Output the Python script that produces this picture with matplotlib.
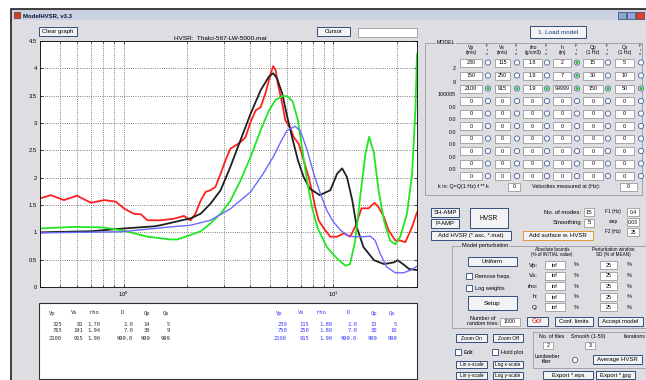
import numpy as np
import matplotlib.pyplot as plt
from matplotlib.patches import Rectangle, Circle
from matplotlib.ticker import LogLocator, FuncFormatter

# HVSR curves (freq in Hz, amplitude)
f_red = [0.40, 0.45, 0.52, 0.60, 0.70, 0.81, 0.92, 1.01, 1.12, 1.21, 1.30, 1.51, 1.74, 1.94,
         2.02, 2.085, 2.20, 2.33, 2.46, 2.59, 2.74, 2.90, 3.06, 3.23, 3.42, 3.61, 3.81, 4.03,
         4.26, 4.50, 4.74, 5.02, 5.16, 5.30, 5.43, 5.70, 5.90, 6.24, 6.47, 6.83, 7.21, 7.62,
         7.90, 8.20, 8.50, 9.00, 9.66, 10.4, 11.2, 12.0, 12.7, 13.6, 14.7, 15.7, 16.4, 17.4,
         18.3, 19.7, 20.8, 22.0, 23.7, 25.0]
hv_red = [1.62, 1.68, 1.59, 1.67, 1.54, 1.59, 1.56, 1.43, 1.34, 1.33, 1.22, 1.22, 1.25, 1.30,
          1.25, 1.22, 1.34, 1.58, 1.74, 1.77, 1.83, 2.07, 2.32, 2.53, 2.59, 2.65, 2.74, 3.02,
          3.23, 3.29, 3.54, 3.90, 4.04, 3.97, 3.72, 3.36, 3.05, 2.90, 2.74, 2.62, 2.32, 2.01,
          1.75, 1.45, 1.22, 1.07, 0.92, 0.92, 0.98, 0.92, 1.10, 1.44, 1.44, 1.54, 1.46, 1.28,
          1.04, 0.85, 0.85, 0.82, 1.10, 1.37]

f_black = [0.40, 0.70, 1.00, 1.40, 1.50, 2.10, 2.33, 2.59, 2.90, 3.23, 3.61, 4.03, 4.50, 4.93,
           5.16, 5.38, 5.70, 6.05, 6.40, 6.77, 7.21, 7.71, 8.60, 9.66, 10.4, 11.0, 11.6, 12.3,
           12.9, 13.9, 15.6, 17.4, 19.4, 20.2, 21.6, 22.9, 25.0]
hv_black = [1.00, 1.02, 1.07, 1.11, 1.13, 1.26, 1.34, 1.52, 1.77, 2.20, 2.69, 3.17, 3.60, 3.85,
            3.91, 3.82, 3.54, 3.08, 2.69, 2.32, 2.01, 1.80, 1.68, 1.77, 2.07, 2.17, 2.01, 1.58,
            1.10, 0.73, 0.49, 0.42, 0.45, 0.49, 0.41, 0.33, 0.31]

f_green = [0.40, 0.58, 0.80, 1.00, 1.30, 1.67, 1.80, 2.085, 2.33, 2.59, 2.90, 3.23, 3.61, 4.03,
           4.50, 4.93, 5.30, 5.70, 6.05, 6.40, 6.77, 7.08, 7.48, 7.90, 8.40, 9.30, 10.4, 11.4,
           12.0, 12.7, 13.4, 14.2, 14.8, 15.6, 16.4, 17.4, 18.6, 19.7, 20.8, 22.4, 23.7, 24.6,
           25.0]
hv_green = [1.07, 1.10, 1.09, 1.03, 0.92, 0.87, 0.87, 0.95, 1.02, 1.16, 1.34, 1.58, 1.95, 2.38,
            2.87, 3.23, 3.42, 3.49, 3.49, 3.39, 3.05, 2.55, 1.95, 1.46, 1.08, 0.73, 0.52, 0.39,
            0.42, 0.85, 1.64, 2.44, 2.75, 2.44, 1.77, 1.22, 0.85, 0.78, 0.92, 1.34, 2.07, 3.29,
            4.27]

f_blue = [0.40, 0.97, 1.68, 2.085, 2.59, 3.23, 4.03, 4.62, 5.20, 5.60, 6.00, 6.57, 6.97, 7.50,
          8.06, 8.66, 9.30, 10.0, 10.8, 11.6, 12.5, 13.9, 15.0, 15.8, 16.7, 17.9, 19.7, 21.6,
          23.7, 25.0]
hv_blue = [0.99, 1.01, 1.10, 1.13, 1.22, 1.43, 1.74, 2.07, 2.40, 2.65, 2.86, 2.94, 2.85, 2.50,
           2.07, 1.71, 1.40, 1.19, 1.04, 0.95, 0.92, 0.92, 0.93, 0.85, 0.61, 0.37, 0.26, 0.26,
           0.32, 0.38]

# model tables
tab_head = ['Vp', 'Vs', 'rho', 'D', 'Qp', 'Qs']
fit_vp = [325, 765, 2100]
fit_vs = [81, 191, 915]
fit_rho = [1.70, 1.94, 1.90]
fit_d = [2.0, 7.0, 999.0]
fit_qp = [14, 30, 999]
fit_qs = [5, 9, 999]
ini_vp = [230, 750, 2100]
ini_vs = [115, 250, 915]
ini_rho = [1.80, 1.80, 1.90]
ini_d = [2.0, 7.0, 999.0]
ini_qp = [15, 30, 999]
ini_qs = [5, 10, 999]

model_cols = ['Vp\n(m/s)', 'Vs\n(m/s)', 'rho\n(g/cm3)', 'h\n(m)', 'Qp\n(1 Hz)', 'Qs\n(1 Hz)']
model_rows = [['230', '115', '1.8', '2', '15', '5'],
              ['750', '250', '1.8', '7', '30', '10'],
              ['2100', '915', '1.9', '99999', '150', '50']] + [['0'] * 6] * 7
model_fix = [[0, 0, 0, 1, 0, 0], [0, 0, 0, 1, 0, 0], [1, 1, 1, 1, 1, 1]] + [[0] * 6] * 7
depth_labels = ['2', '9', '100005', '0.0', '0.0', '0.0', '0.0', '0.0', '0.0']
pert_names = ['Vp:', 'Vs:', 'rho:', 'h:', 'Q:']

FS = 4.3
plt.rcParams['font.family'] = ['Liberation Sans', 'DejaVu Sans']

fig = plt.figure(figsize=(6.46, 3.80), dpi=100, facecolor='white')
bg = fig.add_axes([0, 0, 1, 1])
bg.set_xlim(0, 646)
bg.set_ylim(380, 0)
bg.axis('off')

WIN = '#dedde2'
bg.add_patch(Rectangle((11, 9), 640, 375, fc=WIN, ec='#202020', lw=1.2))
bg.add_patch(Rectangle((12, 10), 640, 10, fc='#c9d1e2', ec='none'))
bg.add_patch(Rectangle((14, 12), 6, 6, fc='#d8401c', ec='#402010', lw=0.4))
bg.text(23, 15.5, 'ModelHVSR, v3.3', fontsize=4.3, fontweight='bold', color='#101030', va='center')
for x0, c in [(618, '#8fa6d6'), (627, '#8fa6d6'), (636, '#e0402a')]:
    bg.add_patch(Rectangle((x0, 12), 8, 7, fc=c, ec='#30406a', lw=0.5))


def button(x0, y0, x1, y1, label, color='black', ec='#32507e', fs=FS):
    bg.add_patch(Rectangle((x0, y0), x1 - x0, y1 - y0, fc='#f3f3f6', ec=ec, lw=0.7))
    bg.text((x0 + x1) / 2, (y0 + y1) / 2 + 0.3, label, fontsize=fs, color=color,
            ha='center', va='center')


def entry(x0, y0, x1, y1, label='', fs=FS):
    bg.add_patch(Rectangle((x0, y0), x1 - x0, y1 - y0, fc='white', ec='#8a8a8a', lw=0.5))
    if label:
        bg.text((x0 + x1) / 2, (y0 + y1) / 2 + 0.3, label, fontsize=fs, ha='center', va='center')


def radio(x, y, on=False):
    bg.add_patch(Circle((x, y), 2.6, fc='white', ec='#40609a', lw=0.6))
    if on:
        bg.add_patch(Circle((x, y), 1.5, fc='#22c022', ec='none'))


def check(x, y, label):
    bg.add_patch(Rectangle((x - 3, y - 3), 6, 6, fc='white', ec='#2a4a80', lw=0.6))
    bg.text(x + 6, y + 0.3, label, fontsize=FS - 0.3, va='center')


def txt(x, y, s, ha='left', fs=FS, **kw):
    bg.text(x, y, s, fontsize=fs, ha=ha, va='center', **kw)


# top bar of the graph
button(39, 27, 77, 36, 'Clear graph')
txt(220, 38, 'HVSR:  Thalci-567-LW-5000.mat', ha='center', fs=4.6)
button(317, 27, 350, 36, 'Cursor')
entry(358, 28, 417, 37)

# main HVSR plot
ax = fig.add_axes([40 / 646, 93 / 380, 377 / 646, 246 / 380])
line_kw = dict(lw=1.3, solid_joinstyle='round', solid_capstyle='round')
ax.plot(f_red, hv_red, color='#ff2020', **line_kw)
ax.plot(f_black, hv_black, color='#202020', **line_kw)
ax.plot(f_green, hv_green, color='#22e622', **line_kw)
ax.plot(f_blue, hv_blue, color='#6a6aff', lw=1.0, solid_joinstyle='round')
ax.set_xscale('log')
ax.set_xlim(0.4, 25)
ax.set_ylim(0, 4.5)
ax.set_yticks(np.arange(0, 4.51, 0.5))
ax.yaxis.set_major_formatter(FuncFormatter(lambda v, p: '%g' % v))
ax.xaxis.set_major_locator(LogLocator(base=10))
ax.xaxis.set_minor_locator(LogLocator(base=10, subs=np.arange(2, 10)))
ax.xaxis.set_minor_formatter(FuncFormatter(lambda v, p: ''))
ax.grid(True, which='both', axis='x', ls=':', color='#555555', lw=0.6)
ax.grid(True, which='major', axis='y', ls=':', color='#555555', lw=0.6)
ax.tick_params(which='both', direction='in', labelsize=4.2, length=2.5, width=0.5,
               top=True, right=True, pad=2)
ax.tick_params(which='minor', length=1.5)
for s in ax.spines.values():
    s.set_linewidth(0.6)

# model text box under plot
bg.add_patch(Rectangle((39, 303), 378, 76, fc='white', ec='#303030', lw=0.8))
for cols, heads_x, rights, color in [
        ((fit_vp, fit_vs, fit_rho, fit_d, fit_qp, fit_qs),
         [52, 74, 94, 122, 147, 166], [62, 83, 100, 133, 150, 170], '#303030'),
        ((ini_vp, ini_vs, ini_rho, ini_d, ini_qp, ini_qs),
         [279, 301, 321, 348, 374, 392], [287, 309, 332, 357, 377, 397], '#3a3aff')]:
    for h, hx in zip(tab_head, heads_x):
        bg.text(hx, 313, h, fontsize=4.0, family='DejaVu Sans Mono', color=color,
                ha='center', va='center')
    fmts = ['%d', '%d', '%.2f', '%.1f', '%d', '%d']
    for ci, (vals, rx) in enumerate(zip(cols, rights)):
        for ri, v in enumerate(vals):
            bg.text(rx, 324 + ri * 7, fmts[ci] % v, fontsize=4.0, family='DejaVu Sans Mono',
                    color=color, ha='right', va='center')

# right panel: model table
button(530, 26, 586, 38, '1. Load model', color='#1a3c8a', fs=4.6)
bg.add_patch(Rectangle((425, 43), 217, 152, fc='none', ec='#9a9aa0', lw=0.6))
bg.text(446, 43, 'MODEL', fontsize=3.8, ha='center', va='center',
        bbox=dict(fc=WIN, ec='none', pad=0.5))
box_x = [(460, 482), (495, 510), (523, 542), (553, 571), (583, 603), (615, 634)]
radio_x = [488, 517, 547, 577, 608, 641]
head_x = [471, 502, 533, 562, 593, 625]
row_y = [62.5, 75.5, 88.5, 101, 113.5, 126, 138.5, 151, 163.5, 176]
for hx, rx, lab in zip(head_x, radio_x, model_cols):
    bg.text(hx, 50, lab, fontsize=3.6, ha='center', va='center', linespacing=1.0)
    bg.text(rx - 1, 50, 'F\ni\nx', fontsize=2.8, ha='center', va='center', linespacing=0.85)
for ri, (vals, fix) in enumerate(zip(model_rows, model_fix)):
    y = row_y[ri]
    for (x0, x1), rx, v, on in zip(box_x, radio_x, vals, fix):
        entry(x0, y - 4, x1, y + 4, v, fs=3.9)
        radio(rx, y, on)
for ri, lab in enumerate(depth_labels):
    txt(456, (row_y[ri] + row_y[ri + 1]) / 2, lab, ha='right', fs=3.8)
txt(438, 186.5, 'k in: Q=Q(1 Hz) f ** k', fs=3.9)
entry(508, 182.5, 520, 190.5, '0', fs=3.9)
txt(532, 186.5, 'Velocities measured at (Hz):', fs=3.9)
entry(620, 182.5, 637, 190.5, '0', fs=3.9)

# HVSR controls
button(431, 208, 459, 216.5, 'SH-AMP')
button(431, 219, 459, 227.5, 'P-AMP')
button(470, 208, 508, 227.5, 'HVSR', fs=4.8)
button(431, 231, 511, 239.5, 'Add HVSR (*.asc, *.mat)')
button(523, 231, 593, 240, 'Add surface w. HVSR', ec='#e09a30')
txt(581, 212, 'No. of modes:', ha='right')
entry(584, 208, 594, 216, '15')
txt(581, 222.5, 'Smoothing', ha='right')
entry(584, 218.5, 594, 226.5, '5')
for lab, val, y in [('F1 (Hz)', '0.4', 212), ('step', '0.03', 222), ('F2 (Hz)', '25', 232)]:
    txt(613, y, lab, ha='center', fs=3.4)
    entry(627, y - 4, 639, y + 4, val, fs=3.6)

# model perturbation group
bg.add_patch(Rectangle((452, 246), 200, 82, fc='none', ec='#9a9aa0', lw=0.6))
bg.text(485, 246, 'Model perturbation', fontsize=4.0, ha='center', va='center',
        bbox=dict(fc=WIN, ec='none', pad=0.5))
bg.text(552, 252, 'Absolute bounds\n(% of INITIAL value)', fontsize=3.3, ha='center',
        va='center', linespacing=1.0)
bg.text(613, 252, 'Perturbation window\nSD (% of MEAN)', fontsize=3.3, ha='center',
        va='center', linespacing=1.0)
button(468, 257, 517, 265.5, 'Uniform')
check(469, 276, 'Remove freqs.')
check(469, 288, 'Log weights')
button(468, 296, 517, 310, 'Setup', fs=4.6)
for i, name in enumerate(pert_names):
    y = 265 + i * 10.6
    txt(538, y, name, ha='right', fs=4.4)
    entry(545, y - 4, 565, y + 4, 'inf', fs=3.9)
    txt(574, y, '%', fs=3.9)
    entry(600, y - 4, 617, y + 4, '25', fs=3.9)
    txt(627, y, '%', fs=3.9)
bg.text(483, 321, 'Number of\nrandom tries:', fontsize=3.9, ha='center', va='center',
        linespacing=1.0)
entry(500, 317.5, 520, 325.5, '1000', fs=3.8)
button(527, 317, 548, 326, 'Go!', color='#d81818', fs=4.8)
button(555, 317, 593, 326, 'Conf. limits')
button(598, 317, 643, 326, 'Accept model')

# bottom controls
button(456, 334, 487, 342, 'Zoom On', fs=3.6)
button(493, 334, 523, 342, 'Zoom Off', fs=3.6)
check(458, 352, 'Edit')
check(495, 352, 'Hold plot')
button(456, 361, 487, 368, 'Lin x-scale', fs=3.5)
button(493, 361, 523, 368, 'Log x-scale', fs=3.5)
button(456, 372, 487, 379, 'Lin y-scale', fs=3.5)
button(493, 372, 523, 379, 'Log y-scale', fs=3.5)

bg.add_patch(Rectangle((533, 332), 115, 36, fc='none', ec='#9a9aa0', lw=0.6))
txt(552, 336.5, 'No. of files', ha='center', fs=3.8)
entry(543, 342, 553, 349, '2', fs=3.8)
txt(588, 336.5, 'Smooth (1-50)', ha='center', fs=3.8)
entry(585, 342, 595, 349, '3', fs=3.8)
txt(635, 336.5, 'Iterations', ha='center', fs=3.8)
bg.text(547, 359, 'Landweber\nfilter', fontsize=3.6, ha='center', va='center', linespacing=0.9)
radio(575, 360)
button(593, 355, 642, 363.5, 'Average HVSR')
button(543, 371, 593, 379, 'Export *.eps')
button(596, 371, 635, 379, 'Export *.jpg')

fig.savefig('out.png', dpi=100, facecolor='white')
